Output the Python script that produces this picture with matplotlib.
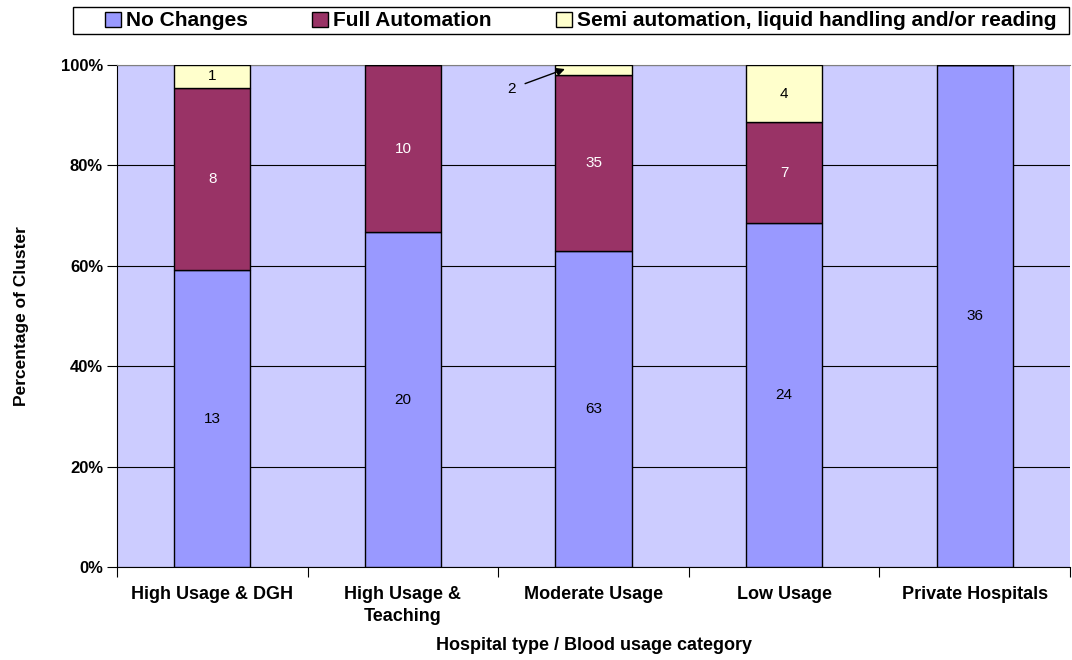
import numpy as np
import matplotlib
matplotlib.use("Agg")
import matplotlib.pyplot as plt
from matplotlib.patches import Rectangle
from matplotlib.ticker import PercentFormatter, FixedLocator

# ==== DATA ====
categories = ["High Usage & DGH", "High Usage &\nTeaching", "Moderate Usage",
              "Low Usage", "Private Hospitals"]
no_changes = np.array([13, 20, 63, 24, 36])
full_auto = np.array([8, 10, 35, 7, 0])
semi_auto = np.array([1, 0, 2, 4, 0])
series_names = ["No Changes", "Full Automation",
                "Semi automation, liquid handling and/or reading"]

# ==== STYLE ====
COLORS = ["#9999FF", "#993366", "#FFFFCC"]
LABEL_COLORS = ["#000000", "#FFFFFF", "#000000"]
BG = "#CCCCFF"
W, H = 1072, 660
plt.rcParams['font.family'] = ['Liberation Sans', 'DejaVu Sans']

counts = [no_changes, full_auto, semi_auto]
totals = no_changes + full_auto + semi_auto
shares = [c / totals * 100 for c in counts]
x = np.arange(len(categories))

fig = plt.figure(figsize=(W / 100, H / 100), dpi=100)
ax = fig.add_axes([117 / W, 1 - 567 / H, 953 / W, 502 / H])
ax.set_facecolor(BG)

bottom = np.zeros(len(categories))
bars = []
for share, col, name in zip(shares, COLORS, series_names):
    b = ax.bar(x, share, 0.4, bottom=bottom, color=col, edgecolor="black",
               linewidth=1, label=name, zorder=3)
    bars.append(b)
    bottom = bottom + share

# data labels inside segments (skip tiny / empty ones)
bottom = np.zeros(len(categories))
for share, cnt, lc in zip(shares, counts, LABEL_COLORS):
    for i in range(len(categories)):
        if cnt[i] > 0 and share[i] > 3:
            ax.text(x[i], bottom[i] + share[i] / 2, str(cnt[i]), ha="center",
                    va="center", fontsize=11, color=lc, zorder=4)
    bottom = bottom + share

# the small "2" segment gets a callout arrow
ax.annotate(str(semi_auto[2]), xy=(1.85, 99.2), xytext=(1.57, 95.3),
            fontsize=11, ha="center", va="center", zorder=5,
            arrowprops=dict(arrowstyle="-|>", color="black", lw=1,
                            mutation_scale=12, shrinkA=5, shrinkB=0))

ax.set_xlim(-0.5, len(categories) - 0.5)
ax.set_ylim(0, 100)
ax.yaxis.set_major_locator(FixedLocator([0, 20, 40, 60, 80, 100]))
ax.yaxis.set_major_formatter(PercentFormatter(decimals=0))
ax.grid(axis="y", color="black", linewidth=0.8, zorder=1)
ax.set_xticks(x)
ax.set_xticklabels(categories, fontsize=13, fontweight="bold", linespacing=1.35)
ax.set_xticks(np.arange(-0.5, len(categories)), minor=True)
ax.tick_params(axis="x", which="major", length=0, pad=14)
ax.tick_params(axis="x", which="minor", length=7, width=0.8, direction="out")
ax.tick_params(axis="y", length=7, width=0.8, direction="out", labelsize=12,
               pad=3)
for lab in ax.get_yticklabels():
    lab.set_fontweight("bold")

ax.spines["top"].set_color("#808080")
ax.spines["right"].set_visible(False)
ax.spines["left"].set_linewidth(0.8)
ax.spines["bottom"].set_linewidth(0.8)

ax.set_ylabel("Percentage of Cluster", fontsize=12.5, fontweight="bold",
              labelpad=23)
ax.set_xlabel("Hospital type / Blood usage category", fontsize=13,
              fontweight="bold", labelpad=9)

# legend box across the top
fig.patches.append(Rectangle((73 / W, 1 - 34 / H), (1069 - 73) / W, 27 / H,
                             transform=fig.transFigure, facecolor="white",
                             edgecolor="black", linewidth=1, zorder=0))
leg = fig.legend(handles=[b[0] for b in bars], labels=series_names,
                 loc="center left", bbox_to_anchor=(105 / W, 1 - 21 / H),
                 ncol=3, fontsize=15, frameon=False, handlelength=0.75,
                 handleheight=0.75, handletextpad=0.25, columnspacing=3.1,
                 borderpad=0, borderaxespad=0)
for t in leg.get_texts():
    t.set_fontweight("bold")

fig.savefig("out.png", dpi=100)
